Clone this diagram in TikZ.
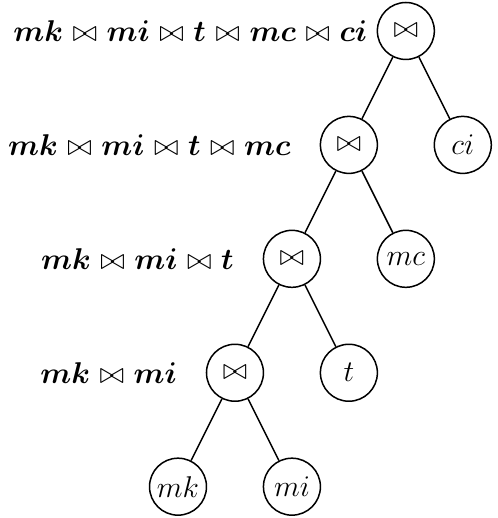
\documentclass[tikz,border=0pt]{standalone}
\usepackage{amsmath}
\usetikzlibrary{positioning}

\newcommand{\jnop}{\mathrel{\text{\unboldmath$\bowtie$}}}

\begin{document}
\begin{tikzpicture}[
  joinnode/.style={draw, circle, semithick, minimum size=8mm, inner sep=0pt, on grid, font=\large},
  rel/.style={font=\fontsize{12.5}{15}\selectfont\boldmath, inner sep=0pt},
  node distance=16mm and 8mm]
\useasboundingbox (-5.70,0.435) rectangle (1.29,-6.84);
% join tree
\node[joinnode] (j4) {$\bowtie$};
\node[joinnode, below left=of j4] (j3) {$\bowtie$};
\node[joinnode, below right=of j4] (ci) {$ci$};
\node[joinnode, below left=of j3] (j2) {$\bowtie$};
\node[joinnode, below right=of j3] (mc) {$mc$};
\node[joinnode, below left=of j2] (j1) {$\bowtie$};
\node[joinnode, below right=of j2] (t) {$t$};
\node[joinnode, below left=of j1] (mk) {$mk$};
\node[joinnode, below right=of j1] (mi) {$mi$};
\draw[semithick] (j4) -- (j3);
\draw[semithick] (j4) -- (ci);
\draw[semithick] (j3) -- (j2);
\draw[semithick] (j3) -- (mc);
\draw[semithick] (j2) -- (j1);
\draw[semithick] (j2) -- (t);
\draw[semithick] (j1) -- (mk);
\draw[semithick] (j1) -- (mi);
% intermediate results
\node[rel, left=3.6pt of j4] (r4) {$mk \jnop mi \jnop t \jnop mc \jnop ci$};
\node[rel, left=11.4pt of j3] (r3) {$mk \jnop mi \jnop t \jnop mc$};
\node[rel, left=11.4pt of j2] (r2) {$mk \jnop mi \jnop t$};
\node[rel, left=11.4pt of j1] (r1) {$mk \jnop mi$};
\end{tikzpicture}
\end{document}
